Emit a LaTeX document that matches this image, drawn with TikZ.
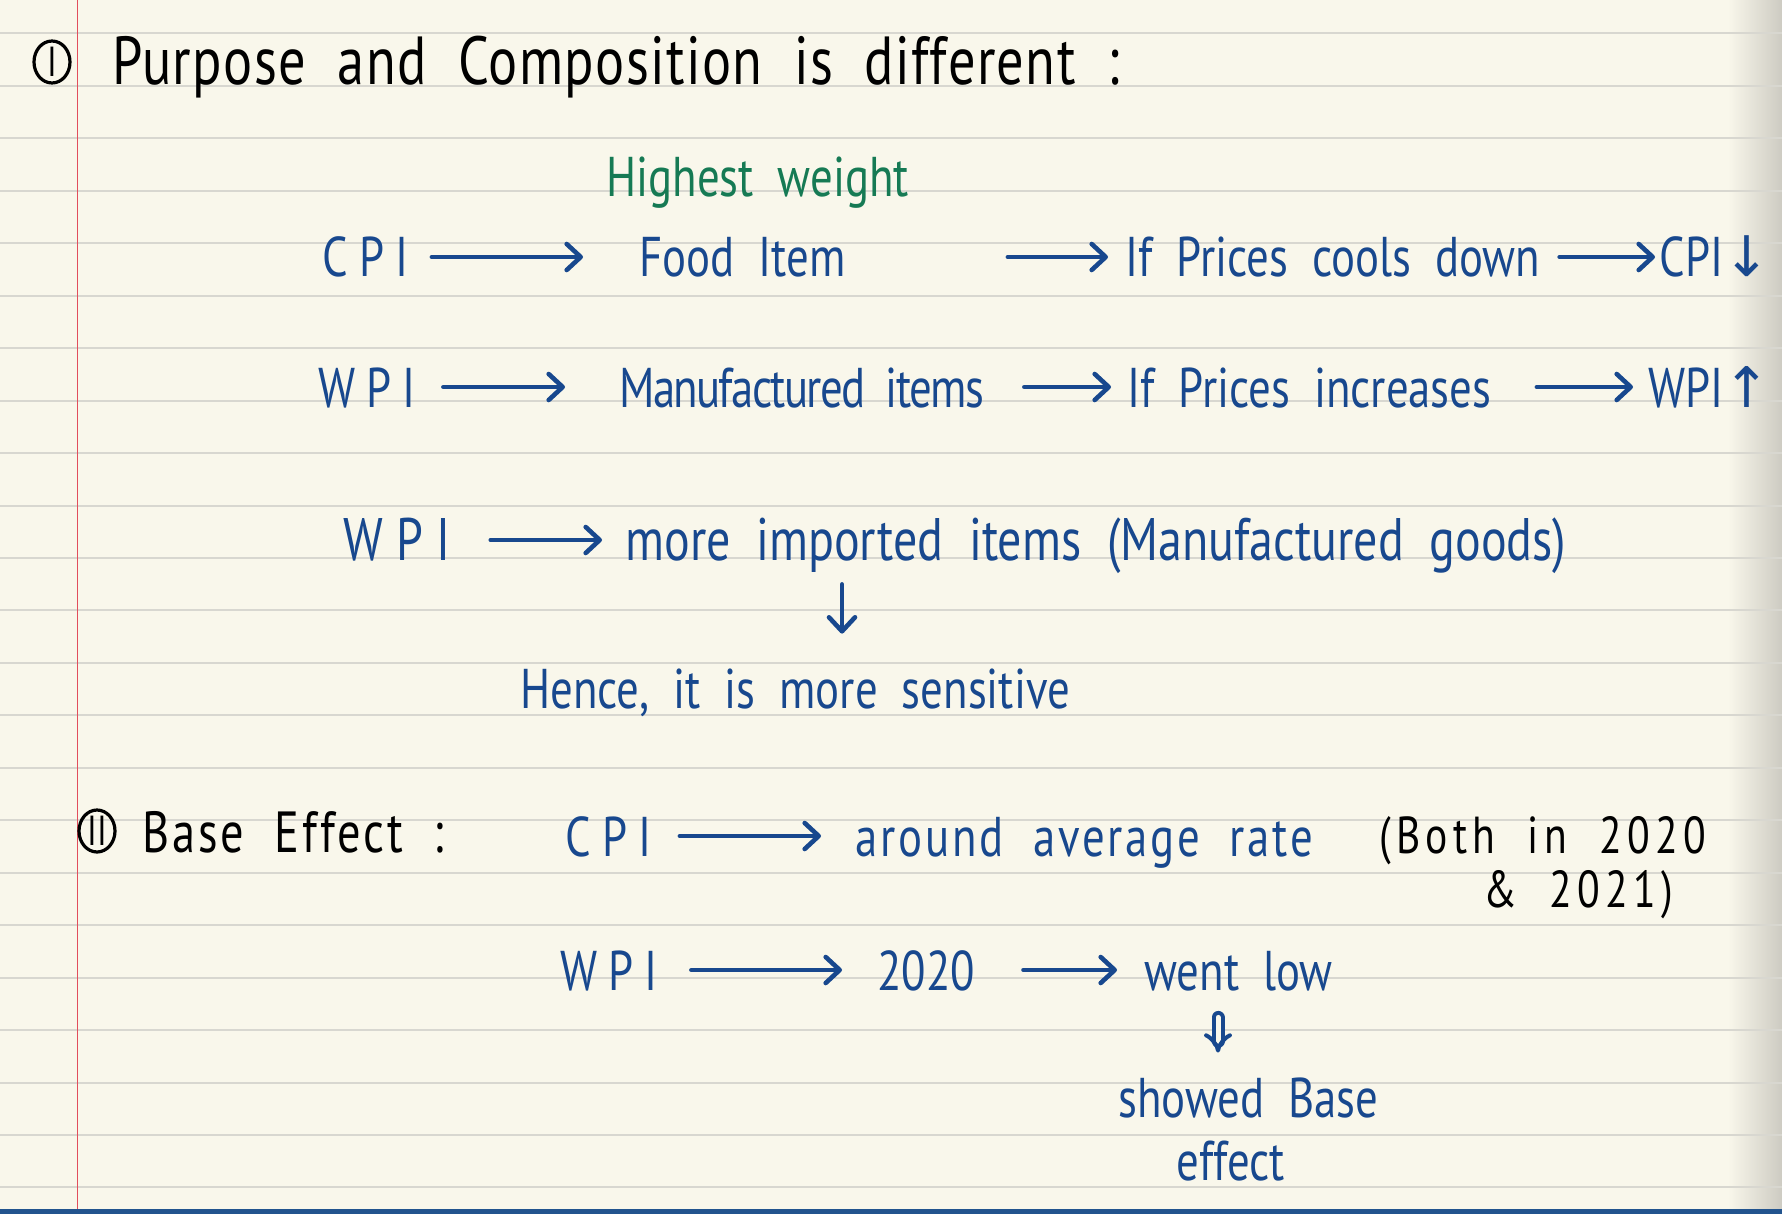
\documentclass[tikz,border=0pt]{standalone}
\usepackage{fontspec}
\setmainfont[FakeStretch=0.8, WordSpace=2]{PT Sans}
\newfontfamily\symfont{DejaVu Sans}
\usetikzlibrary{arrows.meta,shapes.geometric}

\definecolor{paper}{RGB}{249,247,235}
\definecolor{ruling}{RGB}{216,215,208}
\definecolor{margin}{RGB}{226,78,92}
\definecolor{inkblue}{RGB}{24,72,142}
\definecolor{inkgreen}{RGB}{22,122,84}
\definecolor{pageshade}{RGB}{205,203,194}
\definecolor{edgeblue}{RGB}{34,84,142}

\begin{document}
\begin{tikzpicture}[x=0.5pt, y=-0.5pt,
    txt/.style={inner sep=0pt, anchor=base west, text height=20pt, text depth=0pt, text=inkblue, font=\fontsize{28}{32}\selectfont},
    acro/.style={txt, font=\fontsize{28}{32}\selectfont\addfontfeature{LetterSpace=20}},
    bigacro/.style={txt, font=\fontsize{30}{34}\selectfont\addfontfeature{LetterSpace=22}},
    bigtxt/.style={txt, font=\fontsize{30}{34}\selectfont},
    head/.style={txt, text=black, font=\fontsize{34}{40}\selectfont\addfontfeature{LetterSpace=2}},
    note/.style={txt, text=black, font=\fontsize{26}{30}\selectfont\addfontfeature{LetterSpace=10}},
    numcirc/.style={ellipse, draw=black, line width=1.6pt, inner sep=0pt, minimum width=18pt, minimum height=21pt, font=\fontsize{21}{21}\selectfont},
    arr/.style={draw=inkblue, line width=2.3pt, line cap=round, -{Straight Barb[length=7pt, width=13pt, round]}}]

    % the page
    \useasboundingbox (0,0) rectangle (1782,1214);
    \fill[paper] (0,0) rectangle (1782,1214);
    \shade[left color=paper, right color=pageshade] (1728,0) rectangle (1782,1214);
    \foreach \k in {0,...,22}
        \draw[ruling, line width=1pt] (0,33.5+52.45*\k) -- (1782,33.5+52.45*\k);
    \draw[margin, line width=0.9pt] (77.5,0) -- (77.5,1214);
    \draw[edgeblue, line width=2.5pt] (0,1211.5) -- (1782,1211.5);

    % part I
    \node[numcirc] (one) at (52,62) {I};
    \node[head] (title) at (112,85) {Purpose and Composition is different :};
    \node[txt, text=inkgreen] (weight) at (606,197) {Highest weight};

    \node[acro] (cpiA) at (322,277) {CPI};
    \node[txt] (food) at (639,277) {Food Item};
    \node[txt] (cool) at (1125,277) {If Prices cools down};
    \node[txt] (cpiDown) at (1659,277) {CPI{\symfont ↓}};

    \node[acro] (wpiA) at (318,407) {WPI};
    \node[txt, font=\fontsize{28}{32}\selectfont\addfontfeature{LetterSpace=-3}] (manu) at (619,407) {Manufactured items};
    \node[txt] (rise) at (1127,407) {If Prices increases};
    \node[txt] (wpiUp) at (1648,407) {WPI{\symfont ↑}};

    \node[bigacro] (wpiB) at (343,560) {WPI};
    \node[bigtxt] (imported) at (625,560) {more imported items (Manufactured goods)};
    \node[txt] (hence) at (520,708) {Hence, it is more sensitive};

    \draw[arr, shorten <=11.5pt, shorten >=28pt] (cpiA) -- (food);
    \draw[arr, shorten <=81pt, shorten >=8.5pt] (food) -- (cool);
    \draw[arr, shorten <=9.5pt, shorten >=2pt] (cool) -- (cpiDown);

    \draw[arr, shorten <=13.5pt, shorten >=27pt] (wpiA) -- (manu);
    \draw[arr, shorten <=20pt, shorten >=8pt] (manu) -- (rise);
    \draw[arr, shorten <=22.5pt, shorten >=7.5pt] (rise) -- (wpiUp);

    \draw[arr, shorten <=20pt, shorten >=11.5pt] (wpiB) -- (imported);
    \coordinate (drop) at (842,0);
    \draw[arr, shorten <=12pt, shorten >=17pt] (imported.south -| drop) -- (hence.north -| drop);

    % part II
    \node[numcirc] (two) at (97,831) {II};
    \node[head, font=\fontsize{29}{34}\selectfont\addfontfeature{LetterSpace=5}] (base) at (142,852) {Base Effect :};
    \node[acro] (cpiB) at (565,856) {CPI};
    \node[txt, font=\fontsize{28}{32}\selectfont\addfontfeature{LetterSpace=5}] (avg) at (855,856) {around average rate};
    \node[note] (both) at (1379,853) {(Both in 2020};
    \node[note] (both2) at (1483,907) {\& 2021)};

    \node[acro] (wpiC) at (560,990) {WPI};
    \node[txt] (yr) at (877,990) {2020};
    \node[txt] (low) at (1144,990) {went low};
    \node[txt] (showed) at (1118,1117) {showed Base};
    \node[txt] (effect) at (1176,1180) {effect};

    \draw[arr, shorten <=14pt, shorten >=17pt] (cpiB) -- (avg);
    \draw[arr, shorten <=16.5pt, shorten >=17.5pt] (wpiC) -- (yr);
    \draw[arr, shorten <=24pt, shorten >=13.5pt] (yr) -- (low);
    \coordinate (dbl) at (1218,0);
    \draw[arr, double=paper, double distance=2.5pt, line width=2pt, -{Implies}, shorten <=13.5pt, shorten >=12pt] (low.south -| dbl) -- (showed.north -| dbl);
\end{tikzpicture}
\end{document}
